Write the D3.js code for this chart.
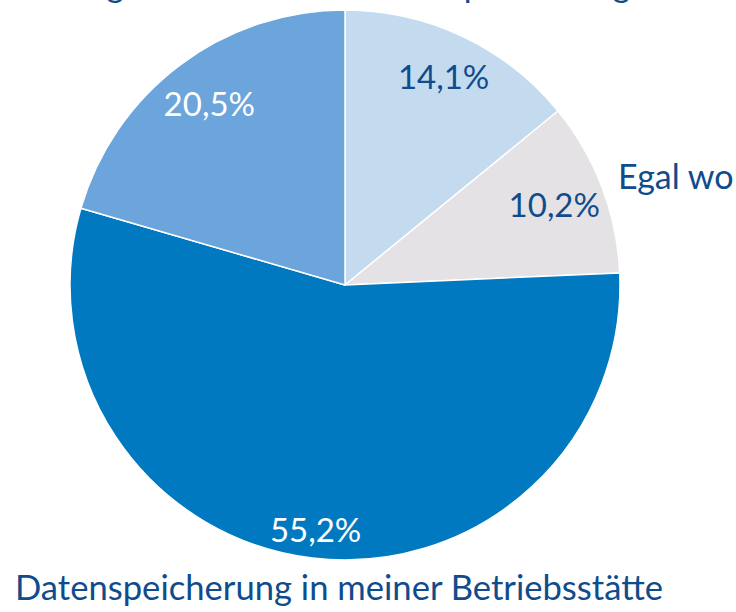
<!DOCTYPE html>
<html><head><meta charset="utf-8">
<script src="https://cdn.jsdelivr.net/npm/d3@7"></script>
<style>html,body{margin:0;padding:0;background:#fff;}svg{display:block;}</style>
</head><body>
<svg id="chart" width="736" height="612"></svg>
<script>
const categories = ["Datenspeicherung extern", "Egal wo", "Datenspeicherung in meiner Betriebsstätte", "Datenspeicherung beim Anbieter"];
const values = [14.1, 10.2, 55.2, 20.5];
const valueLabels = ["14,1%", "10,2%", "55,2%", "20,5%"];
const colors = ["#c3daef", "#e4e2e4", "#0079c1", "#6ba5db"];
const labelColors = ["#0f4c8c", "#0f4c8c", "#ffffff", "#ffffff"];

const svg = d3.select("#chart");
const cx = 345, cy = 285, R = 275;
const font = "Lato, 'Open Sans', sans-serif";
const navy = "#0f4c8c";

const pie = d3.pie().sort(null).value(d => d)(values);
const arc = d3.arc().innerRadius(0).outerRadius(R);
const g = svg.append("g").attr("transform", `translate(${cx},${cy})`);

g.selectAll("path").data(pie).join("path")
  .attr("d", arc)
  .attr("fill", (d, i) => colors[i])
  .attr("stroke", "#fff")
  .attr("stroke-width", 1.5)
  .attr("stroke-linejoin", "round");

const labelR = [230, 224, 247, 226];
g.selectAll("text.v").data(pie).join("text")
  .attr("class", "v")
  .attr("transform", (d, i) => {
    const c = d3.arc().innerRadius(labelR[i]).outerRadius(labelR[i]).centroid(d);
    return `translate(${c[0]},${c[1]})`;
  })
  .attr("text-anchor", "middle")
  .attr("dy", "0.36em")
  .attr("font-family", font)
  .attr("font-size", 33)
  .attr("fill", (d, i) => labelColors[i])
  .text((d, i) => valueLabels[i]);

// category labels
svg.append("text")
  .attr("x", 15).attr("y", 600)
  .attr("font-family", font).attr("font-size", 34).attr("fill", navy)
  .attr("textLength", 648).attr("lengthAdjust", "spacingAndGlyphs")
  .text(categories[2]);

svg.append("text")
  .attr("x", 618).attr("y", 189)
  .attr("font-family", font).attr("font-size", 34).attr("fill", navy)
  .text(categories[1]);

// clipped top line (only descenders visible)
svg.append("text")
  .attr("x", 124).attr("y", -3)
  .attr("text-anchor", "end")
  .attr("font-family", font).attr("font-size", 34).attr("fill", navy)
  .text("Lösung");
svg.append("text")
  .attr("x", 358).attr("y", -3)
  .attr("font-family", font).attr("font-size", 34).attr("fill", navy)
  .text(categories[0].split(" ")[0]);
</script>
</body></html>
